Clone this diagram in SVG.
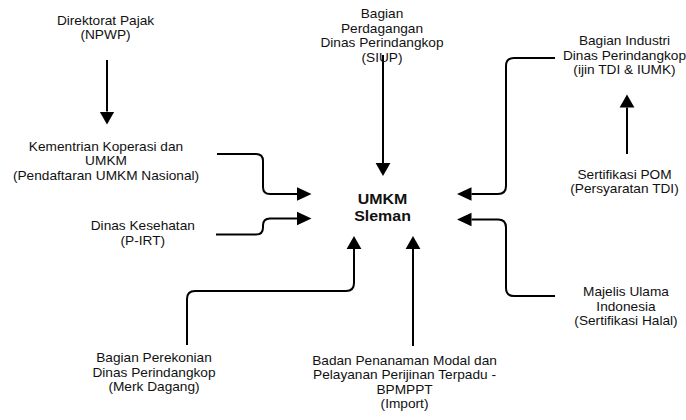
<svg xmlns="http://www.w3.org/2000/svg" width="686" height="420" viewBox="0 0 686 420">
<style>
text{font-family:"Liberation Sans",Arial,Helvetica,sans-serif;font-size:12px;fill:#111;text-anchor:middle}
.b{font-weight:bold;font-size:14px}
.c{fill:none;stroke:#000;stroke-width:2}
.h{marker-end:url(#ah)}
.v{marker-end:url(#av)}
</style>
<defs>
<marker id="ah" markerUnits="userSpaceOnUse" viewBox="0 -8 16 16" markerWidth="16" markerHeight="16" refX="0" refY="0" orient="auto"><path d="M0,-6.8 L14.5,0 L0,6.8 z" fill="#000"/></marker>
<marker id="av" markerUnits="userSpaceOnUse" viewBox="0 -8 16 16" markerWidth="16" markerHeight="16" refX="0" refY="0" orient="auto"><path d="M0,-7.4 L13,0 L0,7.4 z" fill="#000"/></marker>
</defs>
<rect width="686" height="420" fill="#fff"/>
<g id="connectors">
<path class="c v" d="M107,60 V111.5"/>
<path class="c v" d="M383,55 V163"/>
<path class="c h" d="M217,154 H256 Q263,154 263,161 V187 Q263,194 270,194 H297"/>
<path class="c h" d="M216,234.5 H256 Q263,234.5 263,227.5 V225.5 Q263,218.5 270,218.5 H297"/>
<path class="c v" d="M187,345 V299 Q187,291 195,291 H346 Q354,291 354,283 V249"/>
<path class="c v" d="M413,346 V249"/>
<path class="c h" d="M555,58 H514 Q506,58 506,66 V186 Q506,194 498,194 H471.5"/>
<path class="c v" d="M627,154 V107.5"/>
<path class="c h" d="M555,296 H514 Q506,296 506,288 V227.5 Q506,219.5 498,219.5 H471.5"/>
</g>
<g id="umkm" transform="translate(382.5 0) scale(1.14 1)"><text class="b"><tspan x="0" y="204">UMKM</tspan><tspan x="0" y="221.5">Sleman</tspan></text></g>
<g id="direktorat" transform="translate(105.5 0) scale(1.14 1)"><text><tspan x="0" y="25">Direktorat Pajak</tspan><tspan x="0" y="39.4">(NPWP)</tspan></text></g>
<g id="kementrian" transform="translate(106 0) scale(1.14 1)"><text><tspan x="0" y="151">Kementrian Koperasi dan</tspan><tspan x="0" y="165.5">UMKM</tspan><tspan x="0" y="180">(Pendaftaran UMKM Nasional)</tspan></text></g>
<g id="kesehatan" transform="translate(142.8 0) scale(1.14 1)"><text><tspan x="0" y="230.5">Dinas Kesehatan</tspan><tspan x="0" y="245">(P-IRT)</tspan></text></g>
<g id="perekonian" transform="translate(154 0) scale(1.14 1)"><text><tspan x="0" y="362.5">Bagian Perekonian</tspan><tspan x="0" y="377">Dinas Perindangkop</tspan><tspan x="0" y="391.5">(Merk Dagang)</tspan></text></g>
<g id="bpmppt" transform="translate(404.5 0) scale(1.14 1)"><text><tspan x="0" y="365">Badan Penanaman Modal dan</tspan><tspan x="0" y="379.5">Pelayanan Perijinan Terpadu -</tspan><tspan x="0" y="394">BPMPPT</tspan><tspan x="0" y="408.5">(Import)</tspan></text></g>
<g id="perdagangan" transform="translate(382 0) scale(1.14 1)"><text><tspan x="0" y="18.5">Bagian</tspan><tspan x="0" y="33">Perdagangan</tspan><tspan x="0" y="47.5">Dinas Perindangkop</tspan><tspan x="0" y="62">(SIUP)</tspan></text></g>
<g id="industri" transform="translate(624.5 0) scale(1.14 1)"><text><tspan x="0" y="45.5">Bagian Industri</tspan><tspan x="0" y="60">Dinas Perindangkop</tspan><tspan x="0" y="74.5">(ijin TDI &amp; IUMK)</tspan></text></g>
<g id="pom" transform="translate(624.5 0) scale(1.14 1)"><text><tspan x="0" y="178.8">Sertifikasi POM</tspan><tspan x="0" y="193.3">(Persyaratan TDI)</tspan></text></g>
<g id="mui" transform="translate(626 0) scale(1.14 1)"><text><tspan x="0" y="296.5">Majelis Ulama</tspan><tspan x="0" y="311">Indonesia</tspan><tspan x="0" y="325.5">(Sertifikasi Halal)</tspan></text></g>
</svg>
